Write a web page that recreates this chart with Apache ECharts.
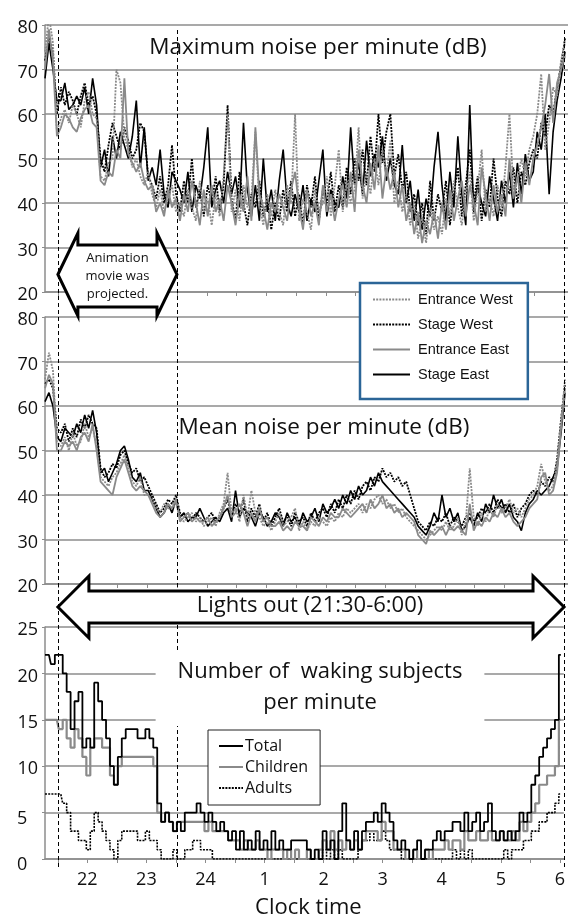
<!DOCTYPE html>
<html>
<head>
<meta charset="utf-8">
<script src="https://cdn.jsdelivr.net/npm/echarts@6/dist/echarts.min.js"></script>
<style>html,body{margin:0;padding:0;background:#fff}#c{width:568px;height:920px}</style>
</head>
<body>
<div id="c"></div>
<script>
// time in minutes after 21:00
const minutes = [17,21,25,29,33,37,41,45,49,53,57,61,65,69,73,77,81,85,89,93,97,101,105,109,113,117,121,125,129,133,137,141,145,149,153,157,161,165,169,173,177,181,185,189,193,197,201,205,209,213,217,221,225,229,233,237,241,245,249,253,257,261,265,269,273,277,281,285,289,293,297,301,305,309,313,317,321,325,329,333,337,341,345,349,353,357,361,365,369,373,377,381,385,389,393,397,401,405,409,413,417,421,425,429,433,437,441,445,449,453,457,461,465,469,473,477,481,485,489,493,497,501,505,509,513,517,521,525,529,533,537,541];

// Maximum noise per minute (dB)
const maxEntranceWest = [74,82,76,56, 59,61,58,62,60,57,63,65,60,59, 46,45,49,50,70,67,55,52,48,50,46,44,47,42, 39,43,38,41,44,38, 40,37,43,39,36,45,38,41,35,42,37,46,60,38,43,36,44,39,41,56,40,35,42,37, 43,38,35,44,40,60,36,41,38,34,43,38,40,46,37,44, 52,38,45,40,43,57,41,47,42,50,44,52,46,54,40, 45,38,42,35,40,32,37,31,39,34,37, 33,41,37,45,39,35,42,47,36,43,52,38,41,37,44,39,48,60,43,45,50,46,52, 55,60,69,52,58,66,64,72,76];
const maxStageWest = [72,77,74,60, 66,62,65,63,60,64,67,62,64,60, 50,47,53,58,55,52,57,54,50,52,58,56,46,44, 41,46,40,44,53,42, 38,45,40,50,39,43,37,44,40,46,38,44,62,41,36,47,40,35,42,39,45,37,41,34, 40,36,43,38,45,37,42,35,44,39,46,36,43,40,47,38, 44,39,48,42,50,45,52,44,55,47,60,49,56,60,46, 51,43,47,38,42,35,40,33,45,36,42, 38,45,35,42,48,37,44,52,40,46,36,43,39,50,41,37,45,42,48,40,47,44,49, 52,50,58,55,62,60,66,71,77];
const maxEntranceEast = [70,79,72,55, 57,60,59,57,56,59,61,62,58,57, 45,44,47,46,52,50,68,51,49,47,49,45,43,44, 38,40,37,43,39,41, 36,42,38,45,40,35,43,37,44,38,41,36,44,40,35,42,38,46,36,57,42,39,34,40, 38,42,39,36,43,47,39,34,43,37,40,35,44,38,42,36, 41,44,39,47,38,52,44,40,49,43,53,41,48,43,47, 39,44,36,40,33,38,31,36,33,38,32, 40,34,43,36,41,45,37,44,40,35,48,42,36,44,38,42,37,50,41,46,40,49,44, 50,53,57,62,69,58,67,70,73];
const maxStageEast = [68,76,70,63, 63,67,61,62,64,62,66,60,68,62, 48,52,46,55,50,56,53,50,55,63,48,57,45,48, 44,52,42,39,47,45, 43,40,47,38,44,41,48,57,39,43,45,40,47,42,46,39,58,43,37,44,36,50,38,43, 36,45,52,40,37,42,38,44,36,41,38,45,52,37,43,40, 39,46,41,57,44,49,42,54,46,51,48,55,45,50,44, 42,53,40,45,36,43,34,41,37,48,56, 44,36,47,39,55,42,35,62,38,44,40,37,46,41,36,45,40,47,39,49,42,51,45, 47,56,52,60,42,56,63,68,74];

// Mean noise per minute (dB)
const meanEntranceWest = [66,72,68,52,51,53,50,54,51,52,56,53,55,51, 44,43,42,44,45,47,49,46,43,42,44,40,40,39, 37,36,38,37,37,38,35,34,35,36,34,35,33,34,35,33,36,38, 45,36,37,34,40,35,41,36,35,33,34,32,34,36,33,34,35,37,32,34,32,34,33,35,34,33,35,34, 36,35,37,36,37,38,36,38,37,39,40,38,39,37,38,36,37,35,34,33,32,31,30,31,32,33, 32,34,32,33,35,31,34,46,35,33,36,34,37,35,38,36,37,39,36,37,35,37,39,40,42,47,43,41,42,47,56,66];
const meanStageWest = [65,66,64,55,54,56,52,55,53,57,55,58,56,55, 46,44,45,47,46,49,50,47,45,46,43,44,42,40, 38,36,37,39,38,40,36,35,36,34,36,35,34,35,36,34,35,37, 39,35,38,36,39,34,37,35,38,34,36,33,35,37,34,35,33,36,34,35,33,36,34,36,37,35,38,36, 39,37,40,38,41,39,42,43,41,44,43,46,44,45,43,44,42,43,40,37,34,33,32,34,33,35, 34,36,33,35,34,33,35,36,34,35,37,36,38,36,39,37,38,36,38,35,37,38,40,41,40,43,42,44,43,48,57,65];
const meanEntranceEast = [64,67,65,50,50,52,51,52,50,53,54,52,56,50, 43,42,41,40,44,46,48,45,42,41,42,41,40,38, 36,35,36,38,37,39,34,35,36,34,35,34,34,35,33,34,35,37, 40,35,36,38,36,33,36,34,37,34,35,33,33,34,32,33,32,34,33,33,32,35,34,33,35,34,36,35, 35,37,36,35,36,37,38,36,39,37,38,40,37,38,36,37,35,36,35,34,31,30,29,32,31,32, 33,31,33,32,33,32,31,38,32,34,33,35,34,36,35,37,35,36,34,33,34,35,37,38,39,44,45,40,41,45,55,64];
const meanStageEast = [61,63,60,53,52,55,54,53,56,54,58,55,59,54, 45,46,43,45,47,50,51,48,44,43,45,41,41,39, 37,35,36,38,36,39,35,36,34,35,35,37,35,33,34,35,34,36, 37,34,41,35,37,36,35,33,36,35,33,34,36,35,33,36,34,35,33,36,34,35,37,34,38,36,37,39, 37,40,38,41,39,42,40,41,44,42,45,43,42,41,40,39,38,37,36,35,33,32,31,33,36,34, 40,35,37,34,36,32,33,35,33,36,34,38,36,40,37,39,36,38,35,34,32,36,38,39,41,40,41,42,44,46,54,63];

// Number of waking subjects per minute
const wakingTotal = [22,22,21,22,22,20,18,14,17,18, 12,13,12,19,17,15,13,10,8,11, 13,14,14,14,13,13,14,13,12,6, 4,5,4,3,4,3,5,5,5,6, 5,4,5,4,3,4,3,2,3,1, 3,1,2,1,3,1,2,1,3,1, 2,1,1,2,2,2,2,1,0,1, 0,3,1,2,0,3,6,2,1,3, 1,3,4,4,5,4,6,5,4,2, 1,2,1,0,1,2,0,1,1,2, 3,2,3,3,4,4,3,5,3,4, 5,3,4,6,3,2,3,2,3,2, 3,5,4,5,8,9,11,12,13,14,15,22];
const wakingChildren = [15,15,15,15,14,15,13,12,14,13, 11,9,12,13,13,12,12,9,8,10, 11,11,11,11,11,11,11,11,10,5, 4,5,4,3,4,4,4,4,4,4, 4,3,4,3,3,3,3,2,2,2, 1,2,1,1,2,1,1,0,1,1, 1,0,1,0,1,0,0,1,0,0, 1,2,1,3,1,2,1,2,1,2, 1,2,3,3,3,2,4,3,3,1, 1,1,0,0,1,0,0,1,0,1, 1,1,2,1,2,2,1,3,2,2, 3,2,2,3,2,2,3,2,2,3, 2,4,3,4,5,6,8,8,9,9,10,15];
const wakingAdults = [7,7,7,7,7,6,5,3,3,2, 2,1,3,5,4,3,2,1,0,2, 3,3,3,3,2,2,3,2,2,1, 0,0,0,1,0,0,1,1,2,2, 1,1,1,0,0,0,0,0,0,0, 0,0,0,0,0,0,0,0,0,0, 0,0,0,0,0,0,0,0,0,0, 0,1,0,1,0,1,0,0,0,0, 1,2,2,3,2,2,3,2,1,1, 1,0,0,0,0,0,0,0,0,0, 0,0,0,0,1,0,1,0,1,0, 0,0,0,0,0,0,0,1,0,1, 1,1,2,2,3,3,4,4,5,5,6,7];

// axis ticks / labels
const halfHourTicks = [30,60,90,120,150,180,210,240,270,300,330,360,390,420,450,480,510,540];
const hourTicks = [60,120,180,240,300,360,420,480,540];
const hourLabels = ['22','23','24','1','2','3','4','5','6'];
const eventMinutes = [30,150,540]; // 21:30, 23:30, 6:00

const FONT = '"Open Sans", Lato, sans-serif';
const GRAY = '#8c8c8c';
const LINEGRAY = '#8a8a8a';
const X_MIN = 17, X_MAX = 544;
const GL = 45, GW = 523;

const pairs = arr => minutes.map((t, i) => [t, arr[i]]);

function makeX(gridIndex, withLabels) {
  return {
    type: 'value', gridIndex, min: X_MIN, max: X_MAX,
    axisLine: {show: true, lineStyle: {color: GRAY, width: 1.5}},
    axisTick: {show: true, customValues: halfHourTicks, length: 4, lineStyle: {color: GRAY, width: 1}},
    splitLine: {show: false},
    axisLabel: withLabels ? {
      show: true, customValues: hourTicks, margin: 12, fontSize: 18, fontFamily: FONT, color: '#111',
      formatter: v => hourLabels[hourTicks.indexOf(v)]
    } : {show: false},
    name: withLabels ? 'Clock time' : '',
    nameLocation: 'middle', nameGap: 38,
    nameTextStyle: {fontSize: 22, fontFamily: FONT, color: '#111', padding: [0, 0, 0, 8]}
  };
}
function makeY(gridIndex, min, max, interval, smallPad) {
  return {
    type: 'value', gridIndex, min, max, interval,
    axisLine: {show: true, lineStyle: {color: GRAY, width: 1.5}},
    axisTick: {show: true, length: 3, lineStyle: {color: GRAY}},
    splitLine: {show: true, lineStyle: {color: GRAY, width: 1.5}},
    axisLabel: {
      show: true, margin: 7, fontSize: 18, fontFamily: FONT, color: '#111',
      padding: [6, 0, 0, 0],
      formatter: v => (smallPad && v < 10) ? '{s|' + v + '}' : String(v),
      rich: {s: {fontSize: 18, fontFamily: FONT, color: '#111', width: 21, align: 'left', padding: [6, 0, 0, 0]}}
    }
  };
}

function line(name, data, xi, color, width, dotted) {
  return {
    type: 'line', name, xAxisIndex: xi, yAxisIndex: xi, data: pairs(data),
    symbol: 'none', showSymbol: false, animation: false, silent: true,
    lineStyle: {color, width, type: dotted ? [2, 1.2] : 'solid'},
    itemStyle: {color}
  };
}

const chart = echarts.init(document.getElementById('c'), null, {renderer: 'canvas'});

const noiseNames = ['Entrance West', 'Stage West', 'Entrance East', 'Stage East'];

const option = {
  animation: false,
  backgroundColor: '#fff',
  grid: [
    {left: GL, width: GW, top: 25, height: 267},
    {left: GL, width: GW, top: 317, height: 267},
    {left: GL, width: GW, top: 627, height: 234},
    {left: GL, width: GW, top: 28, height: 839}
  ],
  xAxis: [makeX(0, false), makeX(1, false), makeX(2, true),
    {type: 'value', gridIndex: 3, min: X_MIN, max: X_MAX, show: false}],
  yAxis: [makeY(0, 20, 80, 10), makeY(1, 20, 80, 10), makeY(2, 0, 25, 5, true),
    {type: 'value', gridIndex: 3, min: 0, max: 1, show: false}],
  title: [
    {text: 'Maximum noise per minute (dB)', left: 318, top: 48, textAlign: 'center', textVerticalAlign: 'middle', padding: 0,
      textStyle: {fontSize: 22.5, fontWeight: 'normal', fontFamily: FONT, color: '#111'}},
    {text: 'Mean noise per minute (dB)', left: 324, top: 428, textAlign: 'center', textVerticalAlign: 'middle', padding: 0,
      textStyle: {fontSize: 22.5, fontWeight: 'normal', fontFamily: FONT, color: '#111'}},
    {text: 'Number of  waking subjects\nper minute', left: 298, top: 681, textAlign: 'center', textVerticalAlign: 'middle',
      padding: [6, 22, 8, 22], backgroundColor: '#fff',
      textStyle: {fontSize: 22, lineHeight: 31, fontWeight: 'normal', fontFamily: FONT, color: '#111'}}
  ],
  legend: [
    {data: noiseNames, orient: 'vertical', left: 360, top: 283, itemWidth: 37, itemHeight: 14, itemGap: 10,
      padding: [9, 15, 17, 12], backgroundColor: '#fff', borderColor: '#2b6597', borderWidth: 2.5,
      selectedMode: false, itemStyle: {opacity: 0},
      textStyle: {fontSize: 14.5, fontFamily: '"Liberation Sans", Arial, sans-serif', color: '#111', padding: [0, 0, 0, 3]}},
    {data: ['Total', 'Children', 'Adults'], orient: 'vertical', left: 208, top: 730, itemWidth: 24, itemHeight: 12, itemGap: 5,
      padding: [8, 12, 9, 10], backgroundColor: '#fff', borderColor: '#222', borderWidth: 1,
      selectedMode: false, itemStyle: {opacity: 0},
      textStyle: {fontSize: 16, fontFamily: FONT, color: '#111', padding: [0, 0, 0, -3]}}
  ],
  series: [
    line('Stage East', maxStageEast, 0, '#000', 1.6, false),
    line('Stage West', maxStageWest, 0, '#000', 1.8, true),
    line('Entrance East', maxEntranceEast, 0, LINEGRAY, 1.8, false),
    line('Entrance West', maxEntranceWest, 0, LINEGRAY, 1.8, true),
    line('Stage East', meanStageEast, 1, '#000', 1.6, false),
    line('Stage West', meanStageWest, 1, '#000', 1.8, true),
    line('Entrance East', meanEntranceEast, 1, LINEGRAY, 1.8, false),
    line('Entrance West', meanEntranceWest, 1, LINEGRAY, 1.8, true),
    Object.assign(line('Adults', wakingAdults, 2, '#000', 1.6, true), {step: 'middle'}),
    Object.assign(line('Children', wakingChildren, 2, '#8a8a8a', 2.2, false), {step: 'middle'}),
    Object.assign(line('Total', wakingTotal, 2, '#000', 1.8, false), {step: 'middle'}),
    {
      type: 'line', name: 'events', xAxisIndex: 3, yAxisIndex: 3, data: [[X_MIN, -5]], symbol: 'none',
      lineStyle: {opacity: 0}, z: 20, silent: true, animation: false,
      markLine: {
        silent: true, symbol: ['none', 'none'], label: {show: false}, animation: false,
        lineStyle: {color: '#000', width: 1, type: [4, 3]},
        data: eventMinutes.map(m => ({xAxis: m}))
      }
    }
  ]
};
chart.setOption(option);

// annotation arrows anchored on the time scale
function px(m) { return chart.convertToPixel({xAxisIndex: 3}, m); }
function blockArrow(x0, x1, yTop, sTop, sBot, yBot, hw) {
  const yc = (yTop + yBot) / 2;
  return [[x0, yc], [x0 + hw, yTop], [x0 + hw, sTop], [x1 - hw, sTop], [x1 - hw, yTop], [x1, yc],
    [x1 - hw, yBot], [x1 - hw, sBot], [x0 + hw, sBot], [x0 + hw, yBot]];
}
const xa = px(eventMinutes[0]), xb = px(eventMinutes[1]), xc = px(eventMinutes[2]);
chart.setOption({
  graphic: [
    {type: 'polygon', z: 5, shape: {points: blockArrow(xa, xb, 233, 245, 307, 316, 20)},
      style: {fill: '#fff', stroke: '#000', lineWidth: 3, lineJoin: 'miter'}},
    {type: 'text', z: 6, x: (xa + xb) / 2, y: 276,
      style: {text: 'Animation\nmovie was\nprojected.', fontSize: 13, lineHeight: 18, fontFamily: FONT, fill: '#111', align: 'center', verticalAlign: 'middle'}},
    {type: 'polygon', z: 5, shape: {points: blockArrow(xa, xc, 576, 591, 623, 638, 31)},
      style: {fill: '#fff', stroke: '#000', lineWidth: 3, lineJoin: 'miter'}},
    {type: 'text', z: 6, x: 310, y: 606,
      style: {text: 'Lights out (21:30-6:00)', fontSize: 22, fontFamily: FONT, fill: '#111', align: 'center', verticalAlign: 'middle'}}
  ]
});
</script>
</body>
</html>
